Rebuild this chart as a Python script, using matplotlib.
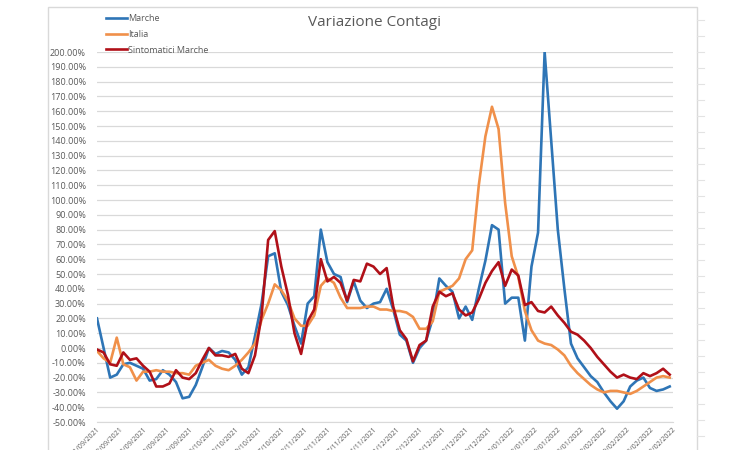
import numpy as np
import matplotlib
matplotlib.use('Agg')
import matplotlib.pyplot as plt
import matplotlib.dates as mdates
from matplotlib.ticker import FuncFormatter, MultipleLocator
from matplotlib.patches import Rectangle
from matplotlib.lines import Line2D

plt.rcParams['font.family'] = ['Open Sans', 'DejaVu Sans']

# one value every 2 days, 01/09/2021 -> 22/02/2022
dates = np.arange('2021-09-01', '2022-02-23', 2, dtype='datetime64[D]')

marche = [20, 0, -20, -18, -11, -10, -12, -14, -22, -21,
          -15, -18, -23, -34, -33, -25, -13, 0, -4, -2,
          -3, -8, -18, -13, 8, 30, 62, 64, 38, 29,
          15, 3, 30, 35, 80, 58, 50, 48, 31, 45,
          32, 27, 30, 31, 40, 26, 9, 5, -10, 0,
          5, 20, 47, 42, 38, 20, 28, 19, 40, 59,
          83, 80, 30, 34, 34, 5, 55, 78, 200, 140,
          80, 40, 3, -7, -13, -19, -23, -30, -36, -41,
          -36, -26, -22, -20, -27, -29, -28, -26]

italia = [-2, -7, -10, 7, -11, -13, -22, -16, -16, -15,
          -16, -16, -17, -17, -18, -12, -10, -8, -12, -14,
          -15, -12, -8, -3, 3, 19, 30, 43, 39, 32,
          20, 15, 15, 22, 42, 47, 44, 34, 27, 27,
          27, 28, 28, 26, 26, 25, 25, 24, 21, 13,
          13, 18, 38, 40, 42, 47, 60, 66, 110, 143,
          163, 148, 98, 62, 48, 25, 12, 5, 3, 2,
          -1, -5, -12, -17, -21, -25, -28, -30, -29, -29,
          -30, -31, -29, -26, -23, -20, -19, -20]

sintomatici = [-1, -3, -11, -12, -3, -8, -7, -12, -16, -26,
               -26, -24, -15, -20, -21, -17, -8, 0, -5, -5,
               -6, -4, -14, -17, -5, 22, 73, 79, 55, 36,
               10, -4, 18, 26, 60, 45, 48, 44, 32, 46,
               45, 57, 55, 50, 54, 28, 12, 6, -9, 2,
               5, 28, 38, 35, 37, 26, 22, 24, 33, 44,
               52, 58, 42, 53, 49, 29, 31, 25, 24, 28,
               22, 17, 11, 9, 5, 0, -6, -11, -16, -20,
               -18, -20, -21, -17, -19, -17, -14, -18]

series_names = ['Marche', 'Italia', 'Sintomatici Marche']
colors = ['#2E75B6', '#F0904A', '#B01018']

fig = plt.figure(figsize=(7.5, 4.5), dpi=100)
ax = fig.add_axes([97/750, 1-422/450, (673-97)/750, (422-52)/450])

# chart border like the spreadsheet frame
fig.patches.append(Rectangle((48/750, -0.1), (697-48)/750, 1.1-7/450,
                             transform=fig.transFigure, fill=False,
                             edgecolor='#D9D9D9', linewidth=1))
for yy in range(20, 450, 16):
    fig.lines.append(Line2D([697/750, 704/750], [1-yy/450, 1-yy/450],
                            transform=fig.transFigure, color='#E3E3E3', lw=0.8))

for vals, name, c in zip([marche, italia, sintomatici], series_names, colors):
    ax.plot(dates, vals, color=c, lw=1.9, label=name, solid_joinstyle='round')

ax.set_ylim(-50, 200)
ax.yaxis.set_major_locator(MultipleLocator(10))
ax.yaxis.set_major_formatter(FuncFormatter(lambda v, p: '%.2f%%' % v))
ax.set_xlim(np.datetime64('2021-09-01'), np.datetime64('2022-02-23'))
ticks = np.arange('2021-09-01', '2022-02-24', 7, dtype='datetime64[D]')
ax.set_xticks(ticks)
ax.xaxis.set_major_formatter(mdates.DateFormatter('%d/%m/%Y'))
plt.setp(ax.get_xticklabels(), rotation=45, ha='right', rotation_mode='anchor')

ax.grid(axis='y', color='#D9D9D9', lw=0.9)
ax.set_axisbelow(True)
for s in ['top', 'right', 'left']:
    ax.spines[s].set_visible(False)
ax.spines['bottom'].set_color('#D9D9D9')
ax.tick_params(axis='both', length=0, labelsize=6.5, colors='#595959')
ax.tick_params(axis='y', pad=8)
ax.tick_params(axis='x', pad=3, labelsize=5)

fig.text(375/750, 1-22/450, 'Variazione Contagi', ha='center', va='center',
         fontsize=11, color='#595959')
fig.legend(loc='upper left', bbox_to_anchor=(106/750, 1-14/450), frameon=False,
           fontsize=6.5, labelspacing=0.75, handlelength=2.3, handletextpad=0.1,
           labelcolor='#595959', borderaxespad=0, borderpad=0)

fig.savefig('out.png', dpi=100, facecolor='white')
